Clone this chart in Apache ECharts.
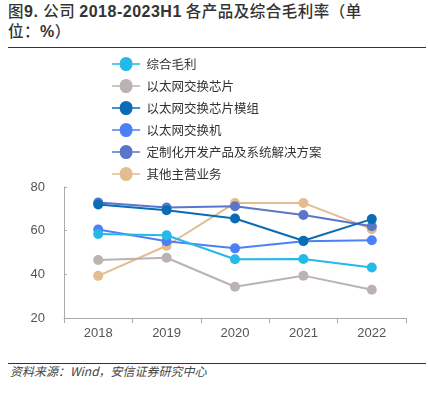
<!DOCTYPE html>
<html><head><meta charset="utf-8">
<script src="https://cdn.jsdelivr.net/npm/echarts@6/dist/echarts.min.js"></script>
<style>
html,body{margin:0;padding:0;background:#fff;}
#wrap{position:relative;width:428px;height:396px;overflow:hidden;}
#title{position:absolute;left:8px;top:1px;width:410px;font-family:"Noto Sans CJK SC","Liberation Sans",sans-serif;font-weight:500;font-size:15.5px;line-height:19px;color:#333;letter-spacing:0.5px;}
#title b{font-family:"Liberation Sans",Arial,sans-serif;font-weight:bold;font-size:16px;}
#line1{position:absolute;left:8px;right:2px;top:47px;height:0;border-top:1.5px solid #333;}
#line2{position:absolute;left:8px;right:2px;top:363px;height:0;border-top:1.5px solid #333;}
#src{position:absolute;left:10px;top:362px;font-family:"Noto Sans CJK SC",sans-serif;font-style:italic;font-size:12px;color:#444;}
#chart{position:absolute;left:0;top:50px;width:428px;height:312px;}
</style></head>
<body><div id="wrap">
<div id="title">图<b>9. </b>公司 <b>2018-2023H1</b> 各产品及综合毛利率（单<br>位：<b>%</b>）</div>
<div id="line1"></div>
<div id="chart"></div>
<div id="line2"></div>
<div id="src">资料来源：Wind，安信证券研究中心</div>
</div>
<script>
var categories = ['2018','2019','2020','2021','2022'];
var seriesNames = ['综合毛利','以太网交换芯片','以太网交换芯片模组','以太网交换机','定制化开发产品及系统解决方案','其他主营业务'];
var zonghe   = [58.5, 57.9, 46.9, 47.0, 43.1];
var xinpian  = [46.6, 47.6, 34.3, 39.4, 32.9];
var mozu     = [72.0, 69.4, 65.6, 55.4, 65.3];
var jiaohuanji = [60.5, 55.2, 51.9, 55.2, 55.6];
var dingzhi  = [72.9, 70.6, 71.2, 67.2, 62.0];
var qita     = [39.3, 53.1, 72.7, 72.7, 60.7];
var yTicks = [20, 40, 60, 80];

var colors = ['#25B9E8','#BAB3B1','#0A6CB5','#4D80F6','#5A76C9','#E3BC90'];
var dataList = [zonghe, xinpian, mozu, jiaohuanji, dingzhi, qita];
var series = seriesNames.map(function(n,i){
  return {name:n,type:'line',data:dataList[i],symbol:'circle',symbolSize:10,
    lineStyle:{width:2,color:colors[i]},itemStyle:{color:colors[i]},z:10-i};
});
var chart = echarts.init(document.getElementById('chart'));
chart.setOption({
  animation:false,
  color:colors,
  legend:{orient:'vertical',left:107,top:2,itemGap:8,itemWidth:31,itemHeight:14,
    textStyle:{fontFamily:'"Noto Sans CJK SC",sans-serif',fontSize:12.5,color:'#333'},
    data:seriesNames.map(function(n,i){return {name:n,icon:'path://M0,6.3H8.5A5,5 0 1 1 22.5,6.3H31V7.7H22.5A5,5 0 1 1 8.5,7.7H0Z'};})
  },
  grid:{left:64,right:22,top:137,bottom:44,containLabel:false},
  xAxis:{type:'category',data:categories,boundaryGap:true,
    axisLine:{lineStyle:{color:'#AAAAAA',width:1}},
    axisTick:{show:true,length:5,lineStyle:{color:'#AAAAAA'}},
    axisLabel:{fontFamily:'"Liberation Sans",Arial,sans-serif',fontSize:13,color:'#555',margin:9}},
  yAxis:{type:'value',min:yTicks[0],max:yTicks[yTicks.length-1],interval:20,
    axisLine:{show:true,lineStyle:{color:'#AAAAAA'}},
    axisTick:{show:true,inside:true,length:3,lineStyle:{color:'#AAAAAA'}},
    splitLine:{show:false},
    axisLabel:{fontFamily:'"Liberation Sans",Arial,sans-serif',fontSize:13,color:'#555',margin:19}},
  series:series
});
</script>
</body></html>
